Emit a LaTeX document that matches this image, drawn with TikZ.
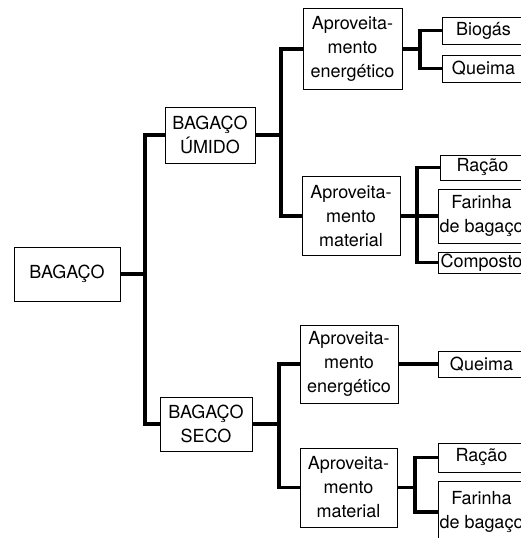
\documentclass[tikz,border=0pt]{standalone}
\usepackage{fontspec}
\setmainfont{TeX Gyre Heros}

\begin{document}
\begin{tikzpicture}[x=1pt,y=-1pt,
	caixa/.style={draw,line width=0.9pt,inner sep=0pt,align=center,
		font=\fontsize{18}{24}\selectfont},
	ligacao/.style={line width=3.2pt}]

	\useasboundingbox (0,0) rectangle (521,538);
	\clip (0,0) rectangle (521,538);

	% primeiro nivel
	\node[caixa,minimum width=106,minimum height=54] (raiz) at (67,274) {BAGAÇO};
	\node[caixa,minimum width=90,minimum height=56] (umido) at (210,135) {BAGAÇO\\ÚMIDO};
	\node[caixa,minimum width=92,minimum height=54] (seco) at (206,424) {BAGAÇO\\SECO};

	% aproveitamento
	\node[caixa,minimum width=99,minimum height=81] (ene1) at (352.5,49) {Aproveita-\\mento\\energético};
	\node[caixa,minimum width=98,minimum height=79] (mat1) at (351,216) {Aproveita-\\mento\\material};
	\node[caixa,minimum width=98,minimum height=78] (ene2) at (349,364) {Aproveita-\\mento\\energético};
	\node[caixa,minimum width=97,minimum height=79] (mat2) at (348.5,487.5) {Aproveita-\\mento\\material};

	% produtos
	\node[caixa,minimum width=83,minimum height=27] (biogas1) at (483.5,30.5) {Biogás};
	\node[caixa,minimum width=83,minimum height=27] (queima1) at (483.5,68.5) {Queima};
	\node[caixa,minimum width=85,minimum height=25] (racao1) at (482.5,167.5) {Ração};
	\node[caixa,minimum width=87,minimum height=54] (farinha1) at (481.5,216) {Farinha\\de bagaço};
	\node[caixa,minimum width=87,minimum height=21] (composto1) at (481.5,262.5) {Composto};
	\node[caixa,minimum width=87,minimum height=26] (queima2) at (481.5,364) {Queima};
	\node[caixa,minimum width=87,minimum height=29] (racao2) at (481.5,457.5) {Ração};
	\node[caixa,minimum width=87,minimum height=62] (farinha2) at (481.5,512) {Farinha\\de bagaço};

	% ligacoes
	\coordinate (j0) at (145,274);
	\coordinate (j1) at (281,135);
	\coordinate (j2) at (279,424);
	\coordinate (j3) at (420,49);
	\coordinate (j4) at (417,216);
	\coordinate (j5) at (415,487.5);

	\draw[ligacao] (raiz.east) -- (j0) (j0) |- (umido.west) (j0) |- (seco.west);
	\draw[ligacao] (umido.east) -- (j1) (j1) |- (ene1.west) (j1) |- (mat1.west);
	\draw[ligacao] (seco.east) -- (j2) (j2) |- (ene2.west) (j2) |- (mat2.west);
	\draw[ligacao] (ene1.east) -- (j3) (j3) |- (biogas1.west) (j3) |- (queima1.west);
	\draw[ligacao] (mat1.east) -- (j4) (j4) |- (racao1.west) (j4) -- (farinha1.west)
		(j4) |- (composto1.west);
	\draw[ligacao] (ene2.east) -- (queima2.west);
	\draw[ligacao] (mat2.east) -- (j5) (j5) |- (racao2.west) (j5) |- (farinha2.west);

\end{tikzpicture}
\end{document}
